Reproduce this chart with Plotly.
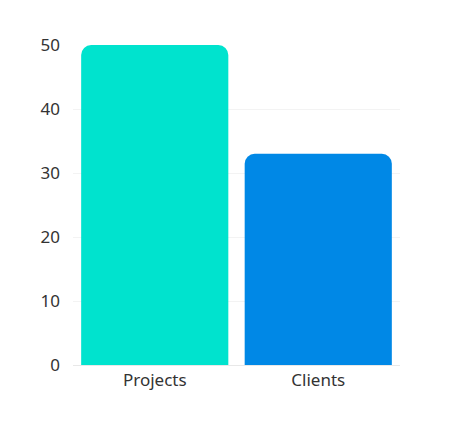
import plotly.graph_objects as go

categories = ["Projects", "Clients"]
values = [50, 33]
colors = ["#00E3CE", "#0088E6"]

fig = go.Figure(go.Bar(x=categories, y=values, marker=dict(color=colors, line=dict(width=0))))
fig.update_layout(
    width=451, height=433,
    margin=dict(l=65, r=59, t=37, b=76),
    paper_bgcolor="white", plot_bgcolor="white",
    bargap=0.1, barcornerradius=10,
    font=dict(family="Noto Sans", size=17, color="#333"),
    showlegend=False,
)
fig.update_yaxes(range=[0, 50], dtick=10, gridcolor="#f3f3f3", zeroline=False, ticks="", ticklabelstandoff=12)
fig.update_xaxes(showline=True, linecolor="#e8e8e8", ticks="")
fig.write_html("out.html")
